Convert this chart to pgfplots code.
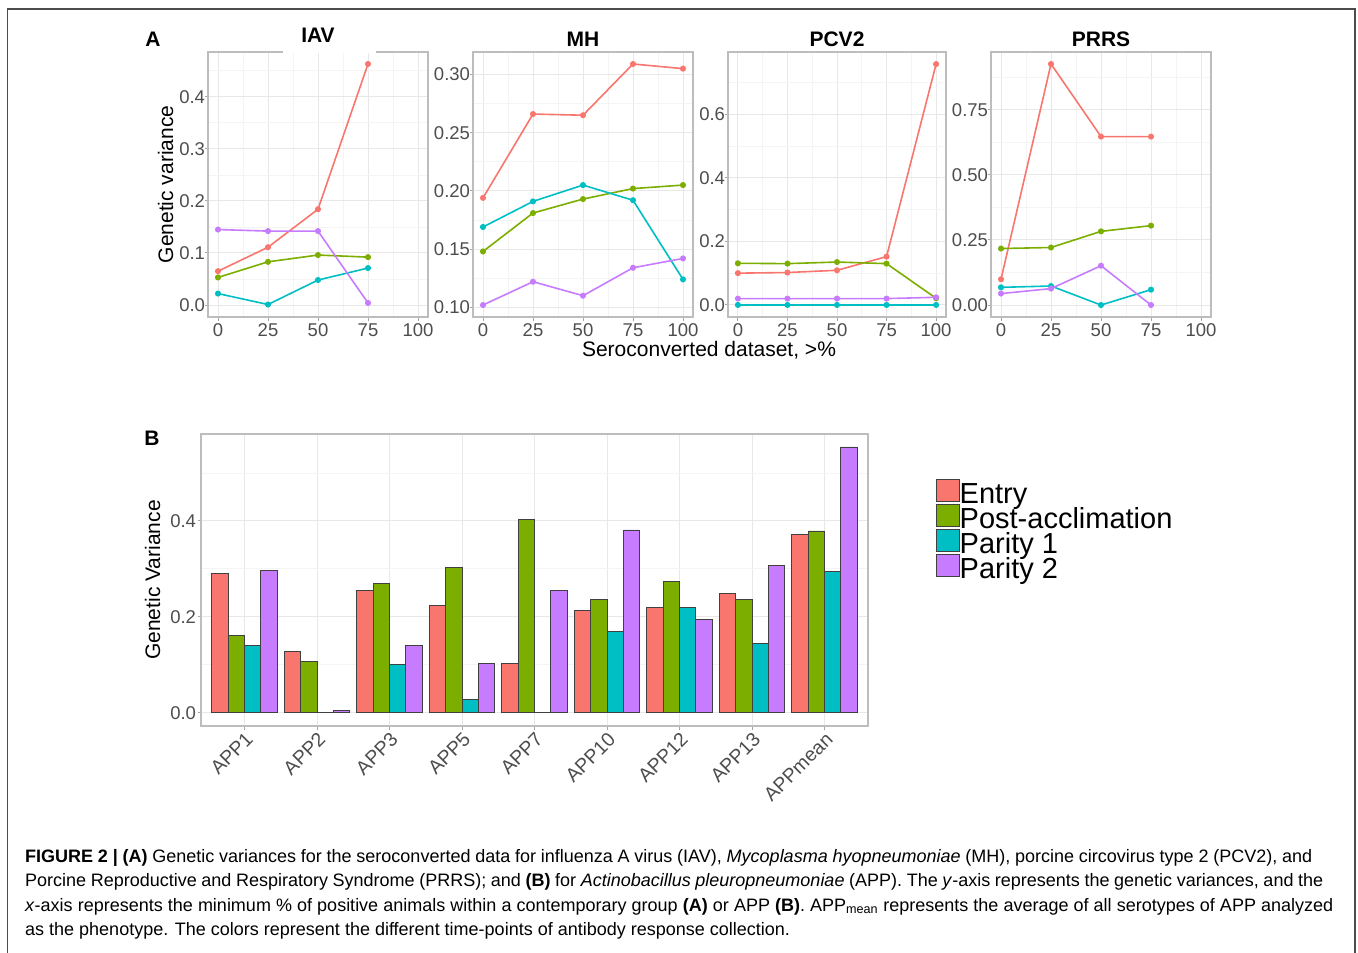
\documentclass[border=0pt]{standalone}
\usepackage{pgfplots}
\pgfplotsset{compat=1.18}
\usepackage{pgfplotstable}
\usepackage{fontspec}
\setmainfont{Liberation Sans}
\newfontfamily\capfont{Liberation Sans}

\definecolor{cEntry}{HTML}{F8766D}
\definecolor{cPost}{HTML}{7CAE00}
\definecolor{cPar1}{HTML}{00BFC4}
\definecolor{cPar2}{HTML}{C77CFF}
\definecolor{bord}{HTML}{BDBDBD}
\definecolor{gmaj}{HTML}{E8E8E8}
\definecolor{gmin}{HTML}{F4F4F4}
\definecolor{ticklab}{HTML}{4D4D4D}

% panel B: genetic variance per APP serotype
\pgfplotstableread{
x entry post par1 par2
1 0.291 0.161 0.141 0.297
2 0.127 0.106 0.000 0.0055
3 0.254 0.269 0.100 0.141
4 0.224 0.302 0.028 0.102
5 0.102 0.402 0.000 0.255
6 0.214 0.236 0.169 0.381
7 0.220 0.273 0.220 0.195
8 0.248 0.237 0.145 0.307
9 0.372 0.379 0.294 0.554
}\apptable

\pgfplotsset{
  gg/.style={
    scale only axis,
    axis line style={draw=bord, line width=1.2pt},
    grid=both,
    major grid style={draw=gmaj, line width=1pt},
    minor grid style={draw=gmin, line width=0.7pt},
    tick align=outside,
    xtick pos=bottom, ytick pos=left,
    major tick length=3.5pt,
    minor tick length=0pt,
    major tick style={draw=gray!70, line width=1pt},
    tick label style={font=\fontsize{18.5}{18.5}\selectfont, text=ticklab},
    /pgf/number format/assume math mode=true,
    scaled y ticks=false,
  },
  ggA/.style={gg, width=220pt, height=265pt, anchor=north west,
    xmin=-5, xmax=105, xtick={0,25,50,75,100},
    minor xtick={12.5,37.5,62.5,87.5},
    yticklabel style={xshift=4pt},
    title style={font=\bfseries\fontsize{21}{21}\selectfont, anchor=base,
      at={(0.5,1)}, inner sep=0pt, yshift=-0.5pt},
  },
  ln/.style={#1, line width=1.6pt, mark=*, mark size=2.2pt},
}

\begin{document}
\begin{tikzpicture}
\path[use as bounding box] (0pt,0pt) rectangle (1358pt,-953pt);
\draw[color=black!70, line width=1.3pt] (7.5pt,-953pt) -- (7.5pt,-9pt) -- (1355pt,-9pt) -- (1355pt,-953pt);

% ---------- panel A ----------
\begin{axis}[ggA, at={(208pt,-52pt)}, title={IAV}, title style={yshift=4pt},
  ymin=-0.023, ymax=0.486, ytick={0,0.1,0.2,0.3,0.4},
  minor ytick={0.05,0.15,0.25,0.35,0.45},
  yticklabel style={/pgf/number format/.cd, fixed, fixed zerofill, precision=1}]
\addplot[ln=cEntry] coordinates {(0,0.065)(25,0.111)(50,0.184)(75,0.463)};
\addplot[ln=cPost] coordinates {(0,0.053)(25,0.083)(50,0.096)(75,0.092)};
\addplot[ln=cPar1] coordinates {(0,0.022)(25,0.001)(50,0.048)(75,0.071)};
\addplot[ln=cPar2] coordinates {(0,0.145)(25,0.142)(50,0.142)(75,0.004)};
\end{axis}

\begin{axis}[ggA, at={(473pt,-52pt)}, title={MH},
  ymin=0.0917, ymax=0.3193, ytick={0.10,0.15,0.20,0.25,0.30},
  minor ytick={0.125,0.175,0.225,0.275},
  yticklabel style={/pgf/number format/.cd, fixed, fixed zerofill, precision=2}]
\addplot[ln=cEntry] coordinates {(0,0.194)(25,0.266)(50,0.265)(75,0.309)(100,0.305)};
\addplot[ln=cPost] coordinates {(0,0.148)(25,0.181)(50,0.193)(75,0.202)(100,0.205)};
\addplot[ln=cPar1] coordinates {(0,0.169)(25,0.191)(50,0.205)(75,0.192)(100,0.124)};
\addplot[ln=cPar2] coordinates {(0,0.102)(25,0.122)(50,0.110)(75,0.134)(100,0.142)};
\end{axis}

\begin{axis}[ggA, at={(728pt,-52pt)}, width=218pt, title={PCV2},
  ymin=-0.038, ymax=0.796, ytick={0,0.2,0.4,0.6},
  minor ytick={0.1,0.3,0.5,0.7},
  yticklabel style={/pgf/number format/.cd, fixed, fixed zerofill, precision=1}]
\addplot[ln=cEntry] coordinates {(0,0.100)(25,0.102)(50,0.109)(75,0.152)(100,0.758)};
\addplot[ln=cPost] coordinates {(0,0.131)(25,0.130)(50,0.135)(75,0.130)(100,0.021)};
\addplot[ln=cPar1] coordinates {(0,0.000)(25,0.000)(50,0.000)(75,0.000)(100,0.000)};
\addplot[ln=cPar2] coordinates {(0,0.020)(25,0.020)(50,0.020)(75,0.020)(100,0.024)};
\end{axis}

\begin{axis}[ggA, at={(991pt,-52pt)}, title={PRRS},
  ymin=-0.046, ymax=0.972, ytick={0,0.25,0.5,0.75},
  minor ytick={0.125,0.375,0.625,0.875},
  yticklabel style={/pgf/number format/.cd, fixed, fixed zerofill, precision=2}]
\addplot[ln=cEntry] coordinates {(0,0.099)(25,0.926)(50,0.647)(75,0.647)};
\addplot[ln=cPost] coordinates {(0,0.217)(25,0.221)(50,0.283)(75,0.305)};
\addplot[ln=cPar1] coordinates {(0,0.068)(25,0.073)(50,0.000)(75,0.059)};
\addplot[ln=cPar2] coordinates {(0,0.044)(25,0.063)(50,0.151)(75,0.000)};
\end{axis}

% gap in the IAV panel's top border
\draw[white, line width=2.5pt] (283pt,-52pt) -- (376pt,-52pt);

\node[font=\bfseries\fontsize{21}{21}\selectfont] at (153pt,-39pt) {A};
\node[rotate=90, anchor=base, font=\fontsize{21}{21}\selectfont] at (173pt,-184.5pt) {Genetic variance};
\node[anchor=base, font=\fontsize{21}{21}\selectfont] at (709pt,-356.5pt) {Seroconverted dataset, >\%};

% ---------- panel B ----------
\begin{axis}[gg, at={(201pt,-434pt)}, anchor=north west, width=667pt, height=292pt,
  ybar=0pt, bar width=0.225,
  xmin=0.4, xmax=9.6, xtick={1,...,9},
  xticklabels={APP1,APP2,APP3,APP5,APP7,APP10,APP12,APP13,APPmean},
  xticklabel style={rotate=45, anchor=north east, inner sep=1pt,
    font=\fontsize{19.5}{19.5}\selectfont},
  yticklabel style={xshift=2pt},
  ymin=-0.0277, ymax=0.581, ytick={0,0.2,0.4}, minor ytick={0.1,0.3,0.5},
  yticklabel style={/pgf/number format/.cd, fixed, fixed zerofill, precision=1},
  legend image code/.code={%
    \path[use as bounding box] (0pt,0pt) rectangle (23pt,12pt);
    \draw[#1, draw=black!75, line width=0.8pt] (0pt,-3.5pt) rectangle (23pt,18.5pt);},
  legend cell align=left,
  legend style={at={(1.1015,0.826)}, anchor=north west, draw=none, fill=none,
    inner sep=0pt, font=\fontsize{29}{29}\selectfont, row sep=0pt,
    nodes={inner sep=0pt, text height=18.5pt, text depth=6.5pt},
    /tikz/every even column/.append style={column sep=2pt}},
]
\addplot[fill=cEntry, draw=black!75, line width=0.8pt] table[x=x, y=entry] {\apptable};
\addplot[fill=cPost, draw=black!75, line width=0.8pt] table[x=x, y=post] {\apptable};
\addplot[fill=cPar1, draw=black!75, line width=0.8pt] table[x=x, y=par1] {\apptable};
\addplot[fill=cPar2, draw=black!75, line width=0.8pt] table[x=x, y=par2] {\apptable};
\legend{Entry, Post-acclimation, Parity 1, Parity 2}
\end{axis}

\node[font=\bfseries\fontsize{21}{21}\selectfont] at (152pt,-438pt) {B};
\node[rotate=90, anchor=base, font=\fontsize{21}{21}\selectfont] at (160pt,-580pt) {Genetic Variance};

% ---------- caption ----------
\begin{scope}[every node/.style={anchor=base west, inner sep=0pt, font=\capfont\fontsize{18}{18}\selectfont}]
\node at (25pt,-862pt) {\makebox[1287pt][s]{\textbf{FIGURE 2 | (A)} Genetic variances for the seroconverted data for influenza A virus (IAV), \textit{Mycoplasma hyopneumoniae} (MH), porcine circovirus type 2 (PCV2), and}};
\node at (25pt,-886.5pt) {\makebox[1298pt][s]{Porcine Reproductive and Respiratory Syndrome (PRRS); and \textbf{(B)} for \textit{Actinobacillus pleuropneumoniae} (APP). The \textit{y}-axis represents the genetic variances, and the}};
\node at (25pt,-911pt) {\makebox[1308pt][s]{\textit{x}-axis represents the minimum \% of positive animals within a contemporary group \textbf{(A)} or APP \textbf{(B)}. APP\textsubscript{mean} represents the average of all serotypes of APP analyzed}};
\node at (25pt,-935.5pt) {as the phenotype. The colors represent the different time-points of antibody response collection.};
\end{scope}
\end{tikzpicture}
\end{document}
